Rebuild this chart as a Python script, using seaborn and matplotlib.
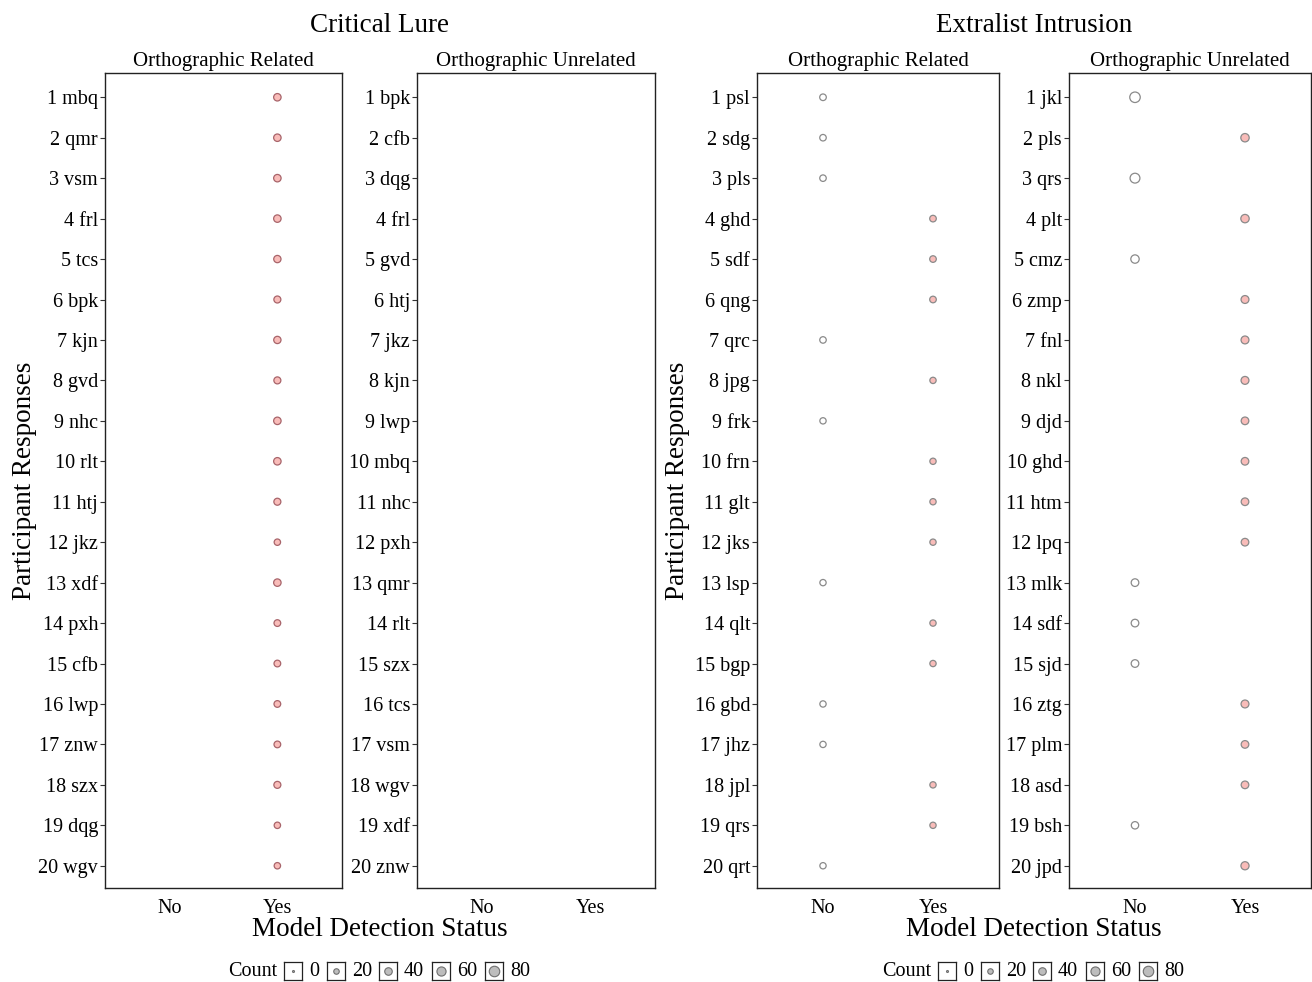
import numpy as np
import pandas as pd
import matplotlib
matplotlib.use("Agg")
import matplotlib.pyplot as plt
import seaborn as sns

# ---- data -------------------------------------------------------------
status_levels = ["No", "Yes"]
legend_counts = [0, 20, 40, 60, 80]

cl_related_words = ["mbq", "qmr", "vsm", "frl", "tcs", "bpk", "kjn", "gvd", "nhc", "rlt",
                    "htj", "jkz", "xdf", "pxh", "cfb", "lwp", "znw", "szx", "dqg", "wgv"]
cl_related_status = ["Yes"] * 20
cl_related_count = [39, 39, 39, 39, 37, 34, 37, 34, 39, 39,
                    34, 28, 39, 31, 31, 31, 31, 34, 28, 28]

cl_unrelated_words = ["bpk", "cfb", "dqg", "frl", "gvd", "htj", "jkz", "kjn", "lwp", "mbq",
                      "nhc", "pxh", "qmr", "rlt", "szx", "tcs", "vsm", "wgv", "xdf", "znw"]
cl_unrelated_status = []
cl_unrelated_count = []

ei_related_words = ["psl", "sdg", "pls", "ghd", "sdf", "qng", "qrc", "jpg", "frk", "frn",
                    "glt", "jks", "lsp", "qlt", "bgp", "gbd", "jhz", "jpl", "qrs", "qrt"]
ei_related_status = ["No", "No", "No", "Yes", "Yes", "Yes", "No", "Yes", "No", "Yes",
                     "Yes", "Yes", "No", "Yes", "Yes", "No", "No", "Yes", "Yes", "No"]
ei_related_count = [30, 29, 29, 30, 30, 30, 29, 27, 27, 27,
                    27, 27, 27, 27, 27, 27, 27, 27, 27, 27]

ei_unrelated_words = ["jkl", "pls", "qrs", "plt", "cmz", "zmp", "fnl", "nkl", "djd", "ghd",
                      "htm", "lpq", "mlk", "sdf", "sjd", "ztg", "plm", "asd", "bsh", "jpd"]
ei_unrelated_status = ["No", "Yes", "No", "Yes", "No", "Yes", "Yes", "Yes", "Yes", "Yes",
                       "Yes", "Yes", "No", "No", "No", "Yes", "Yes", "Yes", "No", "Yes"]
ei_unrelated_count = [90, 50, 70, 50, 50, 44, 44, 44, 41, 41,
                      41, 41, 41, 41, 41, 44, 41, 41, 38, 47]

group_titles = ["Critical Lure", "Extralist Intrusion"]
panel_titles = ["Orthographic Related", "Orthographic Unrelated"]

# ---- style ------------------------------------------------------------
sns.set_theme(style="white")
plt.rcParams["font.family"] = ["Liberation Serif", "DejaVu Serif"]
plt.rcParams.update({
    "axes.linewidth": 1.0,
    "text.color": "black",
    "axes.labelcolor": "black",
    "xtick.color": "black",
    "ytick.color": "black",
    "axes.titlecolor": "black",
})

W, H = 1312, 982
fig = plt.figure(figsize=(W / 100, H / 100), dpi=100)

SIZES = (2, 57)
SIZE_NORM = (0, 80)
YES_FILL = "#f9bcb9"
PALETTE = {"No": "white", "Yes": YES_FILL}


def px_axes(x0, y0, x1, y1):
    return fig.add_axes([x0 / W, 1 - y1 / H, (x1 - x0) / W, (y1 - y0) / H])


def draw_panel(ax, words, status, count, title, edge):
    n = len(words)
    ypos = np.arange(1, n + 1)
    if len(status):
        df = pd.DataFrame({
            "pos": ypos[: len(status)],
            "status": pd.Categorical(status, categories=status_levels),
            "count": count,
        })
        df["x"] = df["status"].cat.codes
        sns.scatterplot(data=df, x="x", y="pos", hue="status", palette=PALETTE,
                        size="count", sizes=SIZES, size_norm=SIZE_NORM,
                        edgecolor=edge, linewidth=0.9, legend=False, ax=ax, zorder=3)
    ax.set_xlim(-0.6, 1.6)
    ax.set_ylim(n + 0.55, 0.4)
    ax.set_xticks([0, 1])
    ax.set_xticklabels(status_levels, fontsize=14.5)
    ax.set_yticks(ypos)
    ax.set_yticklabels([f"{i} {w}" for i, w in zip(ypos, words)], fontsize=14.5)
    ax.tick_params(axis="y", length=3.5, width=0.8, color="#333333", pad=1.5, left=True)
    ax.tick_params(axis="x", length=0, pad=8)
    ax.set_xlabel("")
    ax.set_ylabel("")
    for s in ax.spines.values():
        s.set_color("#222222")
        s.set_linewidth(1.0)
    ax.set_title(title, fontsize=15, pad=5)
    ax.set_facecolor("white")


panels = [
    [(cl_related_words, cl_related_status, cl_related_count, "#a8646a"),
     (cl_unrelated_words, cl_unrelated_status, cl_unrelated_count, "#808080")],
    [(ei_related_words, ei_related_status, ei_related_count, "#8a8a8a"),
     (ei_unrelated_words, ei_unrelated_status, ei_unrelated_count, "#8a8a8a")],
]

# panel placement (pixels)
boxes = [[(105, 342), (417, 655)], [(757, 999), (1069, 1311)]]
TOP, BOT = 73, 888

for g, (gtitle, gpanels, gboxes) in enumerate(zip(group_titles, panels, boxes)):
    for (words, st, ct, edge), ptitle, (x0, x1) in zip(gpanels, panel_titles, gboxes):
        ax = px_axes(x0, TOP, x1, BOT)
        draw_panel(ax, words, st, ct, ptitle, edge)
    left, right = gboxes[0][0], gboxes[1][1]
    cx = (left + right) / 2
    fig.text(cx / W, 1 - 26 / H, gtitle, ha="center", va="center", fontsize=19.5)
    fig.text(cx / W, 1 - 930 / H, "Model Detection Status", ha="center", va="center",
             fontsize=19.5)
    fig.text((left - 80) / W, 1 - ((TOP + BOT) / 2) / H, "Participant Responses",
             rotation=90, ha="center", va="center", fontsize=19.5)

    # size legend
    off = 654 * g
    fig.text((228 + off) / W, 1 - 972 / H, "Count", ha="left", va="center", fontsize=14.5)
    key_x = [284, 327, 379, 432, 485]
    for kx, val in zip(key_x, legend_counts):
        kax = px_axes(kx + off, 962, kx + off + 18, 980)
        kdf = pd.DataFrame({"x": [0.0], "y": [0.0], "count": [val]})
        sns.scatterplot(data=kdf, x="x", y="y", size="count", sizes=SIZES,
                        size_norm=SIZE_NORM, color="#bdbdbd", edgecolor="#6f6f6f",
                        linewidth=0.8, legend=False, ax=kax)
        kax.set_xlim(-1, 1)
        kax.set_ylim(-1, 1)
        kax.set_xticks([])
        kax.set_yticks([])
        kax.set_xlabel("")
        kax.set_ylabel("")
        for s in kax.spines.values():
            s.set_color("#222222")
            s.set_linewidth(0.9)
        fig.text((kx + off + 25) / W, 1 - 972 / H, str(val), ha="left", va="center",
                 fontsize=14.5)

fig.savefig("out.png", dpi=100, facecolor="white")
